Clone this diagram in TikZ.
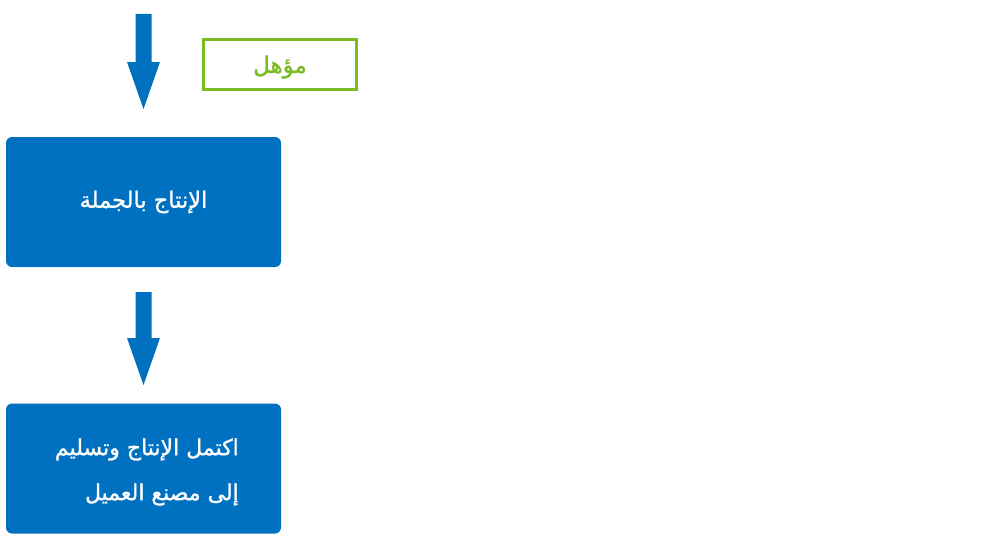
\documentclass[tikz,border=0pt]{standalone}
\usepackage{fontspec}
\newfontfamily\arabicfont[Script=Arabic,FakeBold=1.2]{DejaVu Sans}
\TeXXeTstate=1
\definecolor{mblue}{HTML}{0070C0}
\definecolor{mgreen}{HTML}{7CBB24}
\begin{document}
\begin{tikzpicture}[x=1pt,y=-1pt,
  bluebox/.style={fill=mblue, draw=none, rounded corners=6pt, minimum width=275pt, minimum height=130pt, text=white, font=\arabicfont\fontsize{22.5}{30}\selectfont, inner sep=0pt},
  greenbox/.style={draw=mgreen, line width=2.2pt, minimum width=153pt, minimum height=50pt, text=mgreen, font=\arabicfont\fontsize{23}{25}\selectfont, inner sep=0pt},
  blockarrow/.style={fill=mblue, draw=none}]
\useasboundingbox (0,0) rectangle (1000,535);
\node[bluebox] (b1) at (143.5,202) {\beginR الإنتاج بالجملة\endR};
\node[bluebox] (b2) at (143.5,468.5) {};
\node[text=white, font=\arabicfont\fontsize{22}{45}\selectfont, align=right, anchor=east, inner sep=0pt] (t2) at (239,472) {\beginR اكتمل الإنتاج وتسليم\endR\\\beginR إلى مصنع العميل\endR};
\node[greenbox] (g) at (280,64.5) {};
\node[text=mgreen, font=\arabicfont\fontsize{23}{25}\selectfont, inner sep=0pt] (gt) at (280,67) {\beginR مؤهل\endR};
\coordinate (a1) at (143.5,14);
\coordinate (a2) at (143.5,292);
\fill[blockarrow] (a1) ++(-8,0) -- ++(16,0) -- ++(0,48) -- ++(8.5,0) -- ++(-16.5,47) -- ++(-16.5,-47) -- ++(8.5,0) -- cycle;
\fill[blockarrow] (a2) ++(-8,0) -- ++(16,0) -- ++(0,46) -- ++(8.5,0) -- ++(-16.5,47) -- ++(-16.5,-47) -- ++(8.5,0) -- cycle;
\end{tikzpicture}
\end{document}
